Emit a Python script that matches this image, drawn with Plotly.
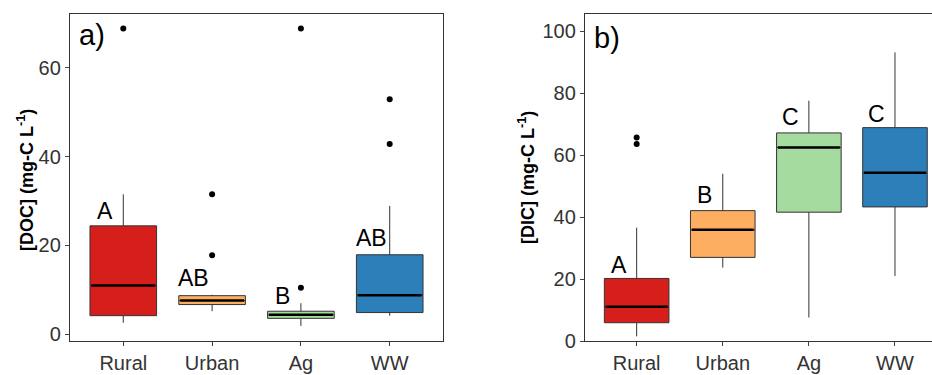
import plotly.graph_objects as go

categories = ["Rural", "Urban", "Ag", "WW"]
colors = ["#d61e1a", "#fdae61", "#a6dba0", "#2c7fb8"]

# Panel a) DOC
doc_lower = [2.6, 5.2, 1.9, 4.2]
doc_q1 = [4.2, 6.7, 3.6, 4.9]
doc_median = [11.0, 7.6, 4.4, 8.8]
doc_q3 = [24.4, 8.7, 5.2, 17.9]
doc_upper = [31.5, 8.9, 7.0, 28.9]
doc_outliers = [[68.8], [31.5, 17.8], [68.8, 10.5], [52.9, 42.8]]
doc_letters = ["A", "AB", "B", "AB"]
doc_letter_y = [27.8, 12.7, 8.7, 21.7]

# Panel b) DIC
dic_lower = [1.5, 23.7, 7.6, 21.0]
dic_q1 = [5.9, 27.0, 41.6, 43.3]
dic_median = [11.1, 35.9, 62.5, 54.3]
dic_q3 = [20.2, 42.1, 67.2, 68.9]
dic_upper = [36.6, 54.0, 77.6, 93.2]
dic_outliers = [[65.7, 63.6], [], [], []]
dic_letters = ["A", "B", "C", "C"]
dic_letter_y = [24.4, 47.2, 72.5, 73.3]

W, H = 932, 375
FONT = "Liberation Sans, Arial, sans-serif"

fig = go.Figure()

def add_panel(xa, ya, lower, q1, med, q3, upper, outl):
    for i, c in enumerate(categories):
        fig.add_trace(go.Box(
            x=[c], q1=[q1[i]], median=[med[i]], q3=[q3[i]],
            lowerfence=[lower[i]], upperfence=[upper[i]],
            fillcolor=colors[i], line=dict(color="#333333", width=1),
            whiskerwidth=0, width=0.75, boxpoints=False,
            xaxis=xa, yaxis=ya, showlegend=False, hoverinfo="skip"))
        # thick median line
        fig.add_trace(go.Box(
            x=[c], q1=[med[i]], median=[med[i]], q3=[med[i]],
            lowerfence=[med[i]], upperfence=[med[i]],
            fillcolor="rgba(0,0,0,0)", line=dict(color="black", width=2.5),
            whiskerwidth=0, width=0.72, boxpoints=False,
            xaxis=xa, yaxis=ya, showlegend=False, hoverinfo="skip"))
        if outl[i]:
            fig.add_trace(go.Scatter(
                x=[c] * len(outl[i]), y=outl[i], mode="markers",
                marker=dict(color="black", size=6),
                xaxis=xa, yaxis=ya, showlegend=False, hoverinfo="skip"))

add_panel("x", "y", doc_lower, doc_q1, doc_median, doc_q3, doc_upper, doc_outliers)
add_panel("x2", "y2", dic_lower, dic_q1, dic_median, dic_q3, dic_upper, dic_outliers)

annotations = []
for i in range(4):
    annotations.append(dict(x=i - 0.21, y=doc_letter_y[i], xref="x", yref="y",
                            text=doc_letters[i], showarrow=False,
                            font=dict(size=23, color="black", family=FONT)))
    annotations.append(dict(x=i - 0.21, y=dic_letter_y[i], xref="x2", yref="y2",
                            text=dic_letters[i], showarrow=False,
                            font=dict(size=23, color="black", family=FONT)))

annotations.append(dict(x=92 / W, y=1 - (35 - 14) / 327, xref="paper", yref="paper",
                        text="a)", showarrow=False, xanchor="center", yanchor="middle",
                        font=dict(size=29, color="black", family=FONT)))
annotations.append(dict(x=607 / W, y=1 - (38 - 14) / 327, xref="paper", yref="paper",
                        text="b)", showarrow=False, xanchor="center", yanchor="middle",
                        font=dict(size=29, color="black", family=FONT)))

annotations.append(dict(x=25 / W, y=1 - (180 - 14) / 327, xref="paper", yref="paper",
                        text="<b>[DOC] (mg-C L<sup>-1</sup>)</b>", showarrow=False,
                        textangle=-90, xanchor="center", yanchor="middle",
                        font=dict(size=18, color="black", family=FONT)))
annotations.append(dict(x=527 / W, y=1 - (178 - 14) / 327, xref="paper", yref="paper",
                        text="<b>[DIC] (mg-C L<sup>-1</sup>)</b>", showarrow=False,
                        textangle=-90, xanchor="center", yanchor="middle",
                        font=dict(size=18, color="black", family=FONT)))

axis_common = dict(showgrid=False, zeroline=False, ticks="outside", ticklen=4,
                   tickcolor="#444444", linecolor="#333333", linewidth=1.3,
                   showline=True, tickfont=dict(size=20, color="#333333", family=FONT))

fig.update_layout(
    width=W, height=H,
    margin=dict(l=0, r=0, t=14, b=34),
    plot_bgcolor="white", paper_bgcolor="white",
    boxmode="overlay",
    annotations=annotations,
    xaxis=dict(domain=[70 / W, 443 / W], type="category", categoryorder="array",
               categoryarray=categories, range=[-0.6, 3.6], mirror=True,
               anchor="y", **axis_common),
    yaxis=dict(domain=[0, 1], range=[-1.5, 72.06], tickvals=[0, 20, 40, 60],
               mirror=True, anchor="x", **axis_common),
    xaxis2=dict(domain=[585 / W, 1.0], type="category", categoryorder="array",
                categoryarray=categories, range=[-0.6, 3.43], mirror=True,
                anchor="y2", **axis_common),
    yaxis2=dict(domain=[0, 1], range=[0, 105.6], tickvals=[0, 20, 40, 60, 80, 100],
                mirror=False, anchor="x2", **axis_common),
)

fig.write_html("out.html")
